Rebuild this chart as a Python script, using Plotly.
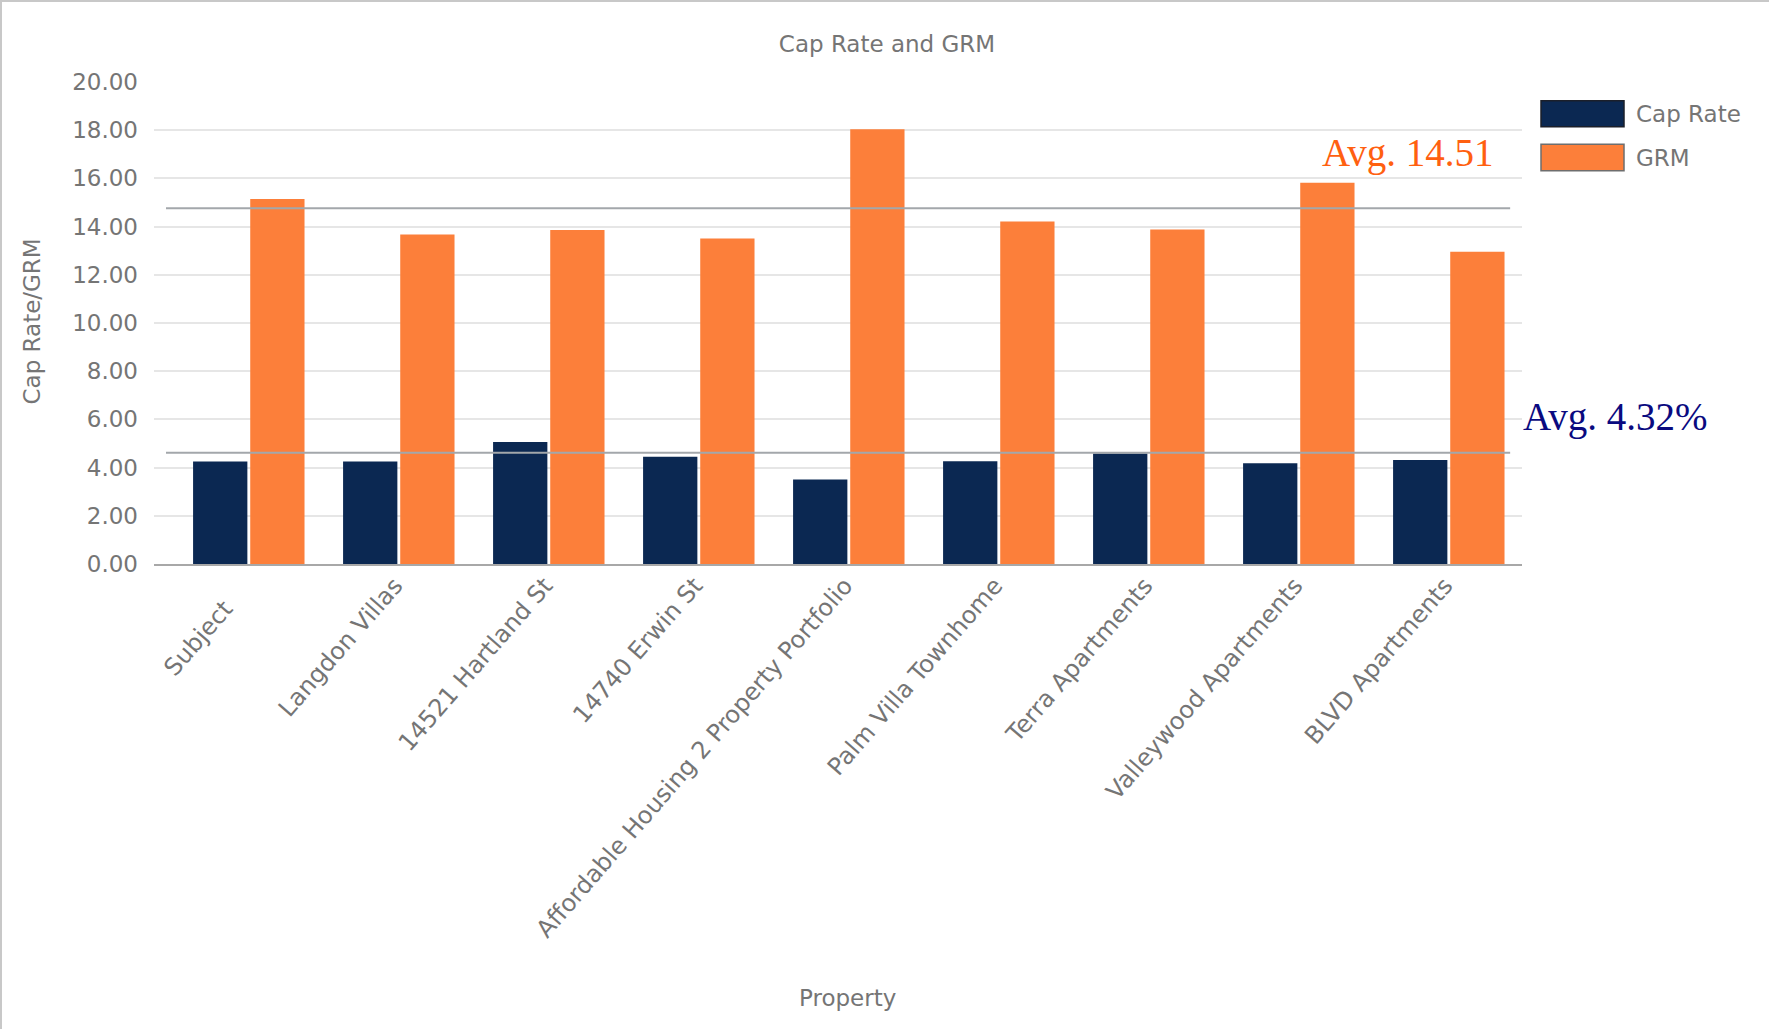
import plotly.graph_objects as go

properties = ["Subject", "Langdon Villas", "14521 Hartland St", "14740 Erwin St",
              "Affordable Housing 2 Property Portfolio", "Palm Villa Townhome",
              "Terra Apartments", "Valleywood Apartments", "BLVD Apartments"]
cap_rate = [4.25, 4.25, 5.06, 4.45, 3.51, 4.26, 4.58, 4.18, 4.32]
grm = [15.15, 13.67, 13.86, 13.51, 18.04, 14.21, 13.88, 15.82, 12.96]
avg_line_levels = [14.76, 4.62]          # where the average lines are drawn (as read)
avg_labels = ["Avg. 14.51", "Avg. 4.32%"]
y_ticks = [0, 2, 4, 6, 8, 10, 12, 14, 16, 18, 20]

NAVY = "#0B2852"
ORANGE = "#FC7F3A"
GRAY_TXT = "#757575"
FONT = "DejaVu Sans"

W, H = 1769, 1029
L, R, T, B = 154, 247, 82, 465
PW, PH = W - L - R, H - T - B

def px_x(p):
    return (p - L) / PW

def px_y(p):
    return (H - B - p) / PH

fig = go.Figure()
fig.add_trace(go.Bar(x=list(range(len(properties))), y=cap_rate, name="Cap Rate",
                     marker=dict(color=NAVY, line=dict(width=0))))
fig.add_trace(go.Bar(x=list(range(len(properties))), y=grm, name="GRM",
                     marker=dict(color=ORANGE, line=dict(width=0))))

# average lines
for lvl in avg_line_levels:
    fig.add_shape(type="line", xref="x", yref="y", x0=-0.552, x1=8.409, y0=lvl, y1=lvl,
                  line=dict(color="#A3A7AB", width=2), layer="above")

# average labels
fig.add_annotation(text=avg_labels[0], xref="paper", yref="paper", x=px_x(1496), y=px_y(153),
                   xanchor="right", yanchor="middle", showarrow=False,
                   font=dict(family="Liberation Serif", size=39, color="#FF6010"))
fig.add_annotation(text=avg_labels[1], xref="paper", yref="paper", x=px_x(1521), y=px_y(417),
                   xanchor="left", yanchor="middle", showarrow=False,
                   font=dict(family="Liberation Serif", size=39, color="#0A0A80"))

# manual legend
legend_items = [("Cap Rate", NAVY, "#1B1F2A", 100.7, 126.7),
                ("GRM", ORANGE, "#6E6E6E", 144.3, 170.7)]
for name, col, border, y0, y1 in legend_items:
    fig.add_shape(type="rect", xref="paper", yref="paper",
                  x0=px_x(1541), x1=px_x(1624), y0=px_y(y1), y1=px_y(y0),
                  fillcolor=col, line=dict(color=border, width=1.5))
    fig.add_annotation(text=name, xref="paper", yref="paper", x=px_x(1634), y=px_y((y0 + y1) / 2),
                       xanchor="left", yanchor="middle", showarrow=False,
                       font=dict(family=FONT, size=23, color=GRAY_TXT))

# axis titles
fig.add_annotation(text="Cap Rate/GRM", xref="paper", yref="paper", x=px_x(31), y=px_y(321.5),
                   xanchor="center", yanchor="middle", textangle=-90, showarrow=False,
                   font=dict(family=FONT, size=23, color=GRAY_TXT))
fig.add_annotation(text="Property", xref="paper", yref="paper", x=px_x(847), y=px_y(998),
                   xanchor="center", yanchor="middle", showarrow=False,
                   font=dict(family=FONT, size=23, color=GRAY_TXT))

# outer frame (top & left)
fig.add_shape(type="line", xref="paper", yref="paper", x0=px_x(0), x1=px_x(W), y0=px_y(1), y1=px_y(1),
              line=dict(color="#C8C8C8", width=2))
fig.add_shape(type="line", xref="paper", yref="paper", x0=px_x(1), x1=px_x(1), y0=px_y(0), y1=px_y(H),
              line=dict(color="#C8C8C8", width=2))

fig.update_layout(
    width=W, height=H,
    margin=dict(l=L, r=R, t=T, b=B, pad=0),
    paper_bgcolor="white", plot_bgcolor="white",
    showlegend=False,
    barmode="group", bargap=0.238, bargroupgap=0.05,
    title=dict(text="Cap Rate and GRM", x=(887 - L) / PW, xref="paper", xanchor="center",
               y=1 - 44 / H, yref="container", yanchor="middle",
               font=dict(family=FONT, size=23, color=GRAY_TXT)),
    font=dict(family=FONT, size=23, color=GRAY_TXT),
)

# the first label sits a little further out along its slant in the reference
tick_text = [p + "\u00a0" * 4 if i == 0 else p for i, p in enumerate(properties)]

fig.update_xaxes(range=[-0.632, 8.488], tickmode="array",
                 tickvals=list(range(len(properties))), ticktext=tick_text,
                 tickangle=-49, showgrid=False, showline=True, linecolor="#A8A8A8", linewidth=2,
                 zeroline=False, ticks="", automargin=False,
                 ticklabelstandoff=-4, ticklabelshift=-4,
                 tickfont=dict(family=FONT, size=24, color=GRAY_TXT))
fig.update_yaxes(range=[0, 20], tickmode="array", tickvals=y_ticks,
                 ticktext=[f"{v:.2f}" for v in y_ticks],
                 showgrid=True, gridcolor="#E6E6E6", gridwidth=1.5, zeroline=False,
                 showline=False, ticks="", ticklabelstandoff=15, automargin=False,
                 tickfont=dict(family=FONT, size=23, color=GRAY_TXT))

fig.write_html("out.html")
